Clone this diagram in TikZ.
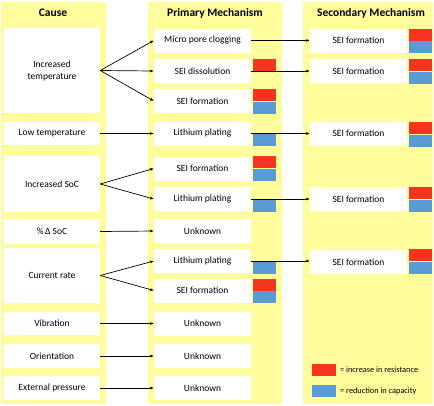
\documentclass[tikz,border=0pt]{standalone}
\usepackage{fontspec}
\setmainfont{Carlito}
\usetikzlibrary{arrows.meta}
\definecolor{colyellow}{RGB}{255,253,155}
\definecolor{sqred}{RGB}{246,52,32}
\definecolor{sqblue}{RGB}{91,155,213}
\begin{document}
\begin{tikzpicture}[x=1pt,y=-1pt,
  col/.style={fill=colyellow,draw=none},
  ttl/.style={font=\fontsize{11.5}{13}\selectfont\bfseries,inner sep=0pt},
  box/.style={fill=white,draw=none,inner sep=0pt,minimum width=97pt,minimum height=24pt,font=\fontsize{9.5}{12}\selectfont,align=center},
  cbox/.style={box,minimum width=96pt},
  rsq/.style={fill=sqred,draw=none,inner sep=0pt,minimum width=23pt,minimum height=12pt,anchor=north west},
  bsq/.style={fill=sqblue,draw=none,inner sep=0pt,minimum width=23pt,minimum height=12pt,anchor=north west},
  arr/.style={-{Latex[length=3.5pt,width=3pt]},line width=0.7pt,black},
  leg/.style={font=\fontsize{8.3}{10}\selectfont,anchor=west,inner sep=0pt}
]
\useasboundingbox (0,0) rectangle (434,405);
% columns
\fill[col] (1,2) rectangle (106,404);
\fill[col] (148,2) rectangle (282,404);
\fill[col] (303,2) rectangle (433,404);
% titles
\node[ttl] (t1) at (53,13) {Cause};
\node[ttl] (t2) at (215,13) {Primary Mechanism};
\node[ttl] (t3) at (371,13) {Secondary Mechanism};
% cause boxes
\node[cbox,minimum height=85pt] (c1) at (52,70.5) {Increased\\temperature};
\node[cbox,minimum height=23pt] (c2) at (52,133.5) {Low temperature};
\node[cbox,minimum height=56pt] (c3) at (52,184) {Increased SoC};
\node[cbox,minimum height=25pt] (c4) at (52,231.5) {\%\,Δ SoC};
\node[cbox,minimum height=55pt] (c5) at (52,275.5) {Current rate};
\node[cbox,minimum height=23pt] (c6) at (52,323.5) {Vibration};
\node[cbox,minimum height=24pt] (c7) at (52,356) {Orientation};
\node[cbox,minimum height=24pt] (c8) at (52,388) {External pressure};
% primary boxes
\node[box] (p1) at (202.5,40.5) {Micro pore clogging};
\node[box] (p2) at (202.5,71) {SEI dissolution};
\node[box] (p3) at (202.5,101) {SEI formation};
\node[box] (p4) at (202.5,133.5) {Lithium plating};
\node[box] (p5) at (202.5,168.5) {SEI formation};
\node[box] (p6) at (202.5,199) {Lithium plating};
\node[box] (p7) at (202.5,231) {Unknown};
\node[box] (p8) at (202.5,261) {Lithium plating};
\node[box] (p9) at (202.5,290.5) {SEI formation};
\node[box] (p10) at (202.5,323.5) {Unknown};
\node[box] (p11) at (202.5,356) {Unknown};
\node[box] (p12) at (202.5,388) {Unknown};
% secondary boxes
\node[box] (s1) at (358.5,40.5) {SEI formation};
\node[box] (s2) at (358.5,71) {SEI formation};
\node[box] (s4) at (358.5,133.5) {SEI formation};
\node[box] (s6) at (358.5,199) {SEI formation};
\node[box] (s8) at (358.5,262) {SEI formation};
% arrows cause -> primary
\draw[arr] (c1.east) -- (p1.west);
\draw[arr] (c1.east) -- (p2.west);
\draw[arr] (c1.east) -- (p3.west);
\draw[arr] (c2.east) -- (p4.west);
\draw[arr] (c3.east) -- (p5.west);
\draw[arr] (c3.east) -- (p6.west);
\draw[arr] (c4.east) -- (p7.west);
\draw[arr] (c5.east) -- (p8.west);
\draw[arr] (c5.east) -- (p9.west);
\draw[arr] (c6.east) -- (p10.west);
\draw[arr] (c7.east) -- (p11.west);
\draw[arr] (c8.east) -- (p12.west);
% arrows primary -> secondary
\draw[arr] (p1.east) -- (s1.west);
\draw[arr] (p2.east) -- (s2.west);
\draw[arr] (p4.east) -- (s4.west);
\draw[arr] (p6.east) -- (s6.west);
\draw[arr] (p8.east) -- (p8.east -| s8.west);
% squares primary
\node[rsq] (p2r) at (253,58.5) {};
\node[rsq] (p3r) at (253,89) {};
\node[bsq] (p3b) at (253,101.5) {};
\node[bsq] (p4b) at (253,134) {};
\node[rsq] (p5r) at (253,156) {};
\node[bsq] (p5b) at (253,169) {};
\node[bsq] (p6b) at (253,199.5) {};
\node[bsq] (p8b) at (253,262) {};
\node[rsq] (p9r) at (253,278.5) {};
\node[bsq] (p9b) at (253,291) {};
% squares secondary
\node[rsq] (s1r) at (409,28.5) {};
\node[bsq] (s1b) at (409,41) {};
\node[rsq] (s2r) at (409,59) {};
\node[bsq] (s2b) at (409,71.5) {};
\node[rsq] (s4r) at (409,122) {};
\node[bsq] (s4b) at (409,134.5) {};
\node[rsq] (s6r) at (409,187) {};
\node[bsq] (s6b) at (409,199.5) {};
\node[rsq] (s8r) at (409,249) {};
\node[bsq] (s8b) at (409,262) {};
% legend
\node[rsq,minimum width=24pt] (lr) at (312,364) {};
\node[bsq,minimum width=24pt] (lb) at (312,385) {};
\node[leg] (lrt) at (340,370) {= increase in resistance};
\node[leg] (lbt) at (340,391) {= reduction in capacity};
\end{tikzpicture}
\end{document}
